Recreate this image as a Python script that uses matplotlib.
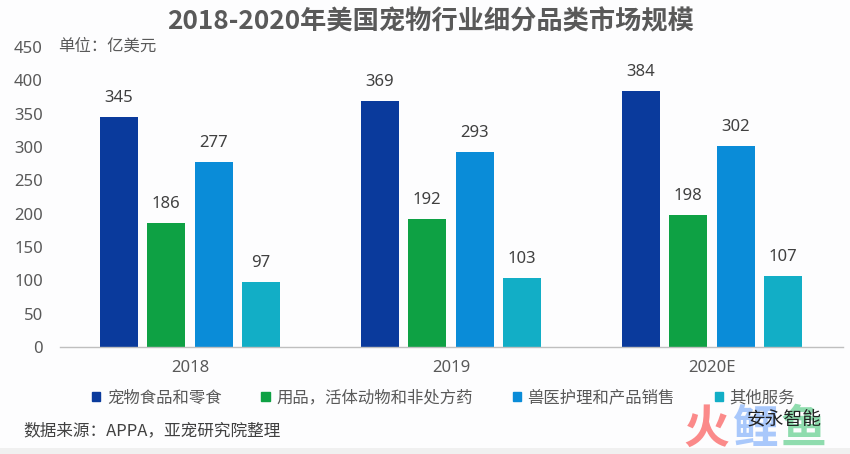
import matplotlib
matplotlib.use("Agg")
import matplotlib.pyplot as plt
import numpy as np
from matplotlib.patches import Patch, Rectangle

plt.rcParams['font.family'] = ['Noto Sans CJK SC', 'DejaVu Sans']
num_font = ['Noto Sans', 'DejaVu Sans']

years = ['2018', '2019', '2020E']
series_names = ['宠物食品和零食', '用品，活体动物和非处方药', '兽医护理和产品销售', '其他服务']
food = [345, 369, 384]
supplies = [186, 192, 198]
vet = [277, 293, 302]
other = [97, 103, 107]
colors = ['#0a3a9c', '#0ea144', '#0a8cd8', '#12aec6']
yticks = [0, 50, 100, 150, 200, 250, 300, 350, 400, 450]

W, H = 850, 454
bg = '#fdfdfe'
grey = '#595959'
fig = plt.figure(figsize=(W/100, H/100), dpi=100, facecolor=bg)
ax = fig.add_axes([59.5/W, 1-347/H, 783/W, 300/H], facecolor='none')

pitch = 47.4/261
width = 38/261
x = np.arange(len(years))
for i, (vals, c) in enumerate(zip([food, supplies, vet, other], colors)):
    pos = x + (i-1.5)*pitch
    ax.bar(pos, vals, width, color=c, label=series_names[i])
    for xp, v in zip(pos, vals):
        ax.annotate(str(v), (xp, v), xytext=(0, 8), textcoords='offset points',
                    ha='center', va='bottom', fontsize=12, color='#404040', family=num_font)

ax.set_xlim(-0.5, 2.5)
ax.set_ylim(0, 450)
ax.set_xticks(x, years)
ax.set_yticks(yticks)
ax.tick_params(axis='both', length=0, labelsize=12, labelcolor=grey)
ax.tick_params(axis='x', pad=9)
ax.tick_params(axis='y', pad=12)
for lab in ax.get_xticklabels() + ax.get_yticklabels():
    lab.set_family(num_font)
for s in ['top', 'right', 'left']:
    ax.spines[s].set_visible(False)
ax.spines['bottom'].set_color('#bfbfbf')
ax.spines['bottom'].set_linewidth(1)

fig.text(431/W, 1-22/H, '2018-2020年美国宠物行业细分品类市场规模', ha='center', va='center',
         fontsize=18.9, fontweight='bold', color=grey)
fig.text(58/W, 1-46/H, '单位：亿美元', ha='left', va='center', fontsize=11.8, color=grey)

handles = [Patch(color=c) for c in colors]
fig.legend(handles, series_names, loc='center left', bbox_to_anchor=(92/W, 1-398/H),
           ncol=4, frameon=False, fontsize=11.8, labelcolor=grey, handlelength=0.5,
           handleheight=0.5, handletextpad=0.4, columnspacing=2.44, borderpad=0, borderaxespad=0)

fig.text(23/W, 1-431/H, '数据来源：APPA，亚宠研究院整理', ha='left', va='center', fontsize=12, color='#404040')

# watermark
fig.text(683/W, 1-430/H, '火', ha='left', va='center', fontsize=33, fontweight='bold', color='#fb8a8a', zorder=4)
fig.text(732/W, 1-430/H, '鲤', ha='left', va='center', fontsize=33, fontweight='bold', color='#a9c8fb', zorder=4)
fig.text(781/W, 1-430/H, '鱼', ha='left', va='center', fontsize=33, fontweight='bold', color='#8fdcae', zorder=4)
fig.text(747/W, 1-420/H, '安永智能', ha='left', va='center', fontsize=13.5, color='#222222', zorder=5)

# grey strip at the bottom of the screenshot
fig.add_artist(Rectangle((0, 0), 1, 6/H, transform=fig.transFigure, color='#f0f0f0', lw=0, zorder=6))

fig.savefig('out.png', dpi=100, facecolor=fig.get_facecolor())
